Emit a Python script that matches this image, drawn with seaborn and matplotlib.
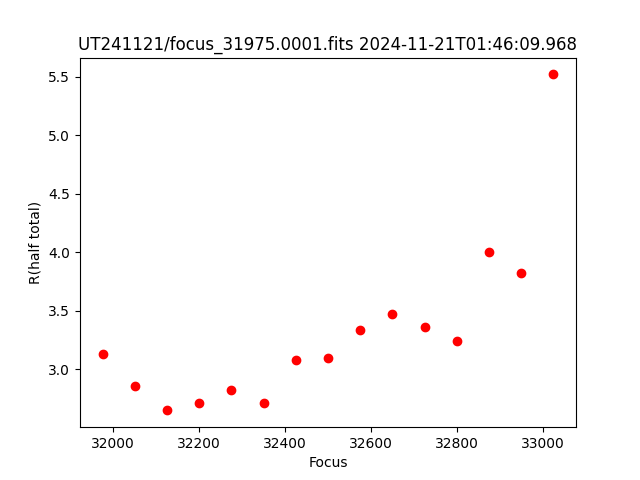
import matplotlib
matplotlib.use("Agg")
import matplotlib.pyplot as plt
import seaborn as sns
import pandas as pd

focus = [31975, 32050, 32125, 32200, 32275, 32350, 32425, 32500,
         32575, 32650, 32725, 32800, 32875, 32950, 33025]
r_half = [3.13, 2.86, 2.65, 2.71, 2.82, 2.71, 3.08, 3.10,
          3.34, 3.47, 3.36, 3.24, 4.00, 3.82, 5.52]

df = pd.DataFrame({"Focus": focus, "R(half total)": r_half})

fig, ax = plt.subplots(figsize=(6.4, 4.8), dpi=100)
sns.scatterplot(data=df, x="Focus", y="R(half total)", ax=ax,
                color="red", s=36, edgecolor="red", linewidth=1, zorder=3)
ax.set_title("UT241121/focus_31975.0001.fits 2024-11-21T01:46:09.968")
ax.set_xlabel("Focus")
ax.set_ylabel("R(half total)")
fig.savefig("out.png", dpi=100)
